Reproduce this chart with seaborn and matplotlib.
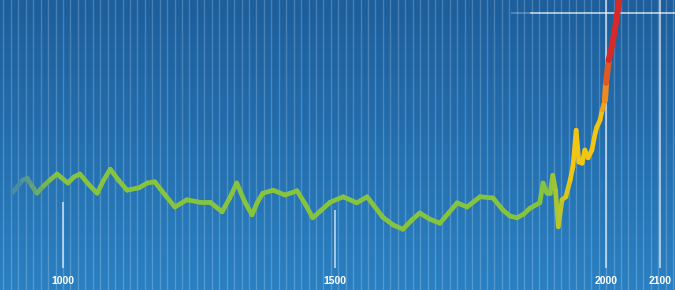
import numpy as np
import pandas as pd
import seaborn as sns
import matplotlib.pyplot as plt
from matplotlib.colors import to_rgb

# Reconstructed temperature curve (year, anomaly in deg C)
years = [908, 926, 934, 943, 952, 964, 976, 989, 1009, 1020, 1031, 1047, 1063, 1075,
         1087, 1102, 1118, 1140, 1155, 1169, 1188, 1206, 1228, 1252, 1271, 1293, 1307,
         1320, 1334, 1348, 1358, 1368, 1387, 1409, 1431, 1446, 1460, 1476, 1492,
         1516, 1541, 1560, 1589, 1608, 1626, 1642, 1657, 1675, 1694, 1710, 1726, 1744,
         1768, 1792, 1810, 1823, 1836, 1848, 1860, 1878, 1884, 1891, 1897, 1902, 1907,
         1912, 1919, 1926, 1934, 1939, 1945, 1950, 1956, 1961, 1967, 1974, 1980, 1983,
         1989, 1993, 1998, 2000, 2005, 2012, 2019, 2026]
temps = [0.05, 0.25, 0.28, 0.15, 0.03, 0.15, 0.25, 0.35, 0.20, 0.30, 0.35, 0.18, 0.03, 0.25,
         0.43, 0.25, 0.08, 0.12, 0.20, 0.22, 0.00, -0.20, -0.08, -0.12, -0.12, -0.28, -0.05,
         0.20, -0.10, -0.33, -0.12, 0.03, 0.08, 0.00, 0.07, -0.15, -0.38, -0.25, -0.12,
         -0.03, -0.13, -0.03, -0.37, -0.50, -0.57, -0.42, -0.30, -0.40, -0.47, -0.30, -0.13, -0.20,
         -0.03, -0.05, -0.25, -0.35, -0.38, -0.32, -0.22, -0.13, 0.20, 0.03, 0.03, 0.33, 0.08,
         -0.53, -0.08, -0.03, 0.25, 0.47, 1.08, 0.55, 0.53, 0.75, 0.62, 0.75, 1.03, 1.13,
         1.25, 1.42, 1.58, 1.87, 2.25, 2.53, 2.92, 3.35]

tick_years = [1000, 1500, 2000, 2100]
tick_labels = ["1000", "1500", "2000", "2100"]

# colour ramp along time
ramp_years = [905, 990, 1895, 1940, 1990, 1999, 2006]
ramp_cols = ["#3f82b4", "#86c440", "#86c440", "#f3c614", "#f3c614", "#ee8a22", "#d42a2a"]

def ramp(yr):
    rgb = np.array([to_rgb(c) for c in ramp_cols])
    return tuple(np.interp(yr, ramp_years, rgb[:, i]) for i in range(3))

rows = []
palette = {}
for i in range(len(years) - 1):
    for j in (i, i + 1):
        rows.append({"year": years[j], "temp": temps[j], "seg": i})
    palette[i] = ramp((years[i] + years[i + 1]) / 2)
seg_df = pd.DataFrame(rows)
modern = seg_df["seg"] >= years.index(1998)

sns.set_theme(style="white")
fig = plt.figure(figsize=(6.75, 2.9), dpi=100)
ax = fig.add_axes([0, 0, 1, 1])
ax.set_xlim(884, 2127)
ax.set_ylim(-1.583, 3.25)

# background gradient
top = np.array(to_rgb("#1d5e9c"))
bot = np.array(to_rgb("#2a80c2"))
t = np.linspace(0, 1, 256)[:, None]
grad = top[None, :] * (1 - t) + bot[None, :] * t
ax.imshow(grad[:, None, :], extent=[0, 1, 0, 1], transform=ax.transAxes,
          aspect="auto", zorder=0)

# faint vertical stripes
for gx in np.arange(1000 - 13.7 * 9, 2140, 13.7):
    ax.axvline(gx, color="white", alpha=0.2, lw=1.0, zorder=1)

# tick markers
ax.vlines(1000, -1.22, -0.12, color="white", alpha=0.75, lw=1.1, zorder=2)
ax.vlines(1500, -1.22, -0.25, color="white", alpha=0.75, lw=1.1, zorder=2)
ax.vlines([2000, 2100], -1.22, 3.25, color="white", alpha=0.75, lw=1.1, zorder=2)
ax.hlines(3.03, 1860, 2127, color="white", alpha=0.8, lw=1.1, zorder=2)
ax.hlines(3.03, 1825, 1860, color="white", alpha=0.3, lw=1.1, zorder=2)

sns.lineplot(data=seg_df[~modern], x="year", y="temp", hue="seg", palette=palette,
             units="seg", estimator=None, sort=False, legend=False,
             lw=3.4, solid_capstyle="round", solid_joinstyle="round", ax=ax, zorder=3)
sns.lineplot(data=seg_df[modern], x="year", y="temp", hue="seg", palette=palette,
             units="seg", estimator=None, sort=False, legend=False,
             lw=4.4, solid_capstyle="round", solid_joinstyle="round", ax=ax, zorder=3)

for yr, lab in zip(tick_years, tick_labels):
    ax.text(yr, -1.43, lab, color="white", ha="center", va="center",
            fontsize=7.5, fontweight="bold", family="Liberation Sans", zorder=4)

ax.set_axis_off()
fig.savefig("out.png", dpi=100)
